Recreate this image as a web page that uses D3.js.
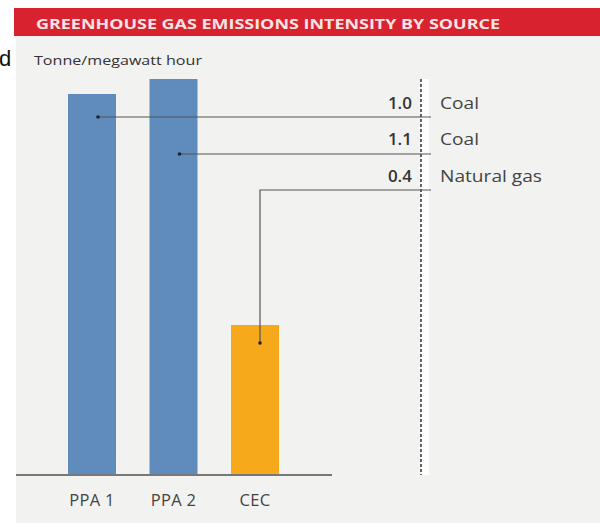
<!DOCTYPE html>
<html><head><meta charset="utf-8">
<script src="https://cdn.jsdelivr.net/npm/d3@7"></script>
<style>body{margin:0;background:#fff}svg{display:block}</style>
</head><body>
<script>
const categories = ["PPA 1", "PPA 2", "CEC"];
const values = [1.016, 1.056, 0.40];
const valueLabels = ["1.0", "1.1", "0.4"];
const sources = ["Coal", "Coal", "Natural gas"];
const colors = ["#5f8bbd", "#5f8bbd", "#f5a91b"];
const title = "GREENHOUSE GAS EMISSIONS INTENSITY BY SOURCE";
const unit = "Tonne/megawatt hour";

const W = 600, H = 523;
const svg = d3.select("body").append("svg").attr("width", W).attr("height", H);
const font = "'Open Sans', sans-serif";

// stray cropped text at left
svg.append("text").attr("x", -1).attr("y", 66).text("d")
  .attr("font-family", "Liberation Sans, Arial, sans-serif").attr("font-size", 22).attr("fill", "#111");

// panel
svg.append("rect").attr("x", 16).attr("y", 36).attr("width", W - 16).attr("height", H - 36).attr("fill", "#f2f2f1");
svg.append("rect").attr("x", 14).attr("y", 8).attr("width", W - 14).attr("height", 28).attr("fill", "#d8222f");
svg.append("text").attr("x", 36).attr("y", 28.5).text(title)
  .attr("font-family", font).attr("font-weight", 700).attr("font-size", 14.5)
  .attr("fill", "#fbe3e4").attr("textLength", 464).attr("lengthAdjust", "spacingAndGlyphs");
svg.append("text").attr("x", 34).attr("y", 65).text(unit)
  .attr("font-family", font).attr("font-size", 13.5).attr("fill", "#333").attr("textLength", 168).attr("lengthAdjust", "spacingAndGlyphs");

const x = d3.scaleBand().domain(categories).range([68, 279]).paddingInner(0.411).paddingOuter(0);
const y = d3.scaleLinear().domain([0, 1]).range([475, 100]);

// bars
svg.selectAll("rect.bar").data(categories).join("rect").attr("class", "bar")
  .attr("x", d => x(d)).attr("width", x.bandwidth())
  .attr("y", (d, i) => y(values[i])).attr("height", (d, i) => y(0) - y(values[i]))
  .attr("fill", (d, i) => colors[i]);

// axis
const axis = svg.append("g").attr("transform", `translate(0,${y(0)})`)
  .call(d3.axisBottom(x).tickSize(0).tickPadding(0));
axis.select(".domain").remove();
axis.append("line").attr("x1", 16).attr("x2", 332).attr("y1", 0).attr("y2", 0)
  .attr("stroke", "#777").attr("stroke-width", 2);
axis.selectAll(".tick text").attr("font-family", font).attr("font-size", 16.5)
  .attr("fill", "#444").attr("letter-spacing", 0.3).attr("dy", null).attr("y", 31);

// dotted divider with white strip
const divX = 421, labelRows = [109, 145, 182];
svg.append("rect").attr("x", divX).attr("y", 79).attr("width", 8).attr("height", y(0) - 79).attr("fill", "#fff");
svg.append("line").attr("x1", divX).attr("x2", divX).attr("y1", 79).attr("y2", y(0))
  .attr("stroke", "#333").attr("stroke-width", 1.5).attr("stroke-dasharray", "3,2");

// leaders
const dotOffsets = [23, 75, 18];
const lineEnd = 431;
categories.forEach((c, i) => {
  const cx = x(c) + x.bandwidth() / 2 + (i === 2 ? 5 : 6);
  const cy = y(values[i]) + dotOffsets[i];
  const ly = labelRows[i] + 8;
  let path;
  if (Math.abs(ly - cy) < 2) path = `M${cx},${cy}H${lineEnd}`;
  else path = `M${cx},${cy}V${ly}H${lineEnd}`;
  svg.append("path").attr("d", path).attr("fill", "none").attr("stroke", "#555").attr("stroke-width", 1.2);
  svg.append("circle").attr("cx", cx).attr("cy", cy).attr("r", 1.8).attr("fill", "#222");
  svg.append("text").attr("x", 412).attr("y", labelRows[i]).attr("text-anchor", "end").text(valueLabels[i])
    .attr("font-family", font).attr("font-weight", 600).attr("font-size", 17).attr("fill", "#333");
  svg.append("text").attr("x", 440).attr("y", labelRows[i]).text(sources[i])
    .attr("font-family", font).attr("font-size", 17).attr("fill", "#444")
    .attr("textLength", i === 2 ? 102 : 39).attr("lengthAdjust", "spacingAndGlyphs");
});
</script>
</body></html>
